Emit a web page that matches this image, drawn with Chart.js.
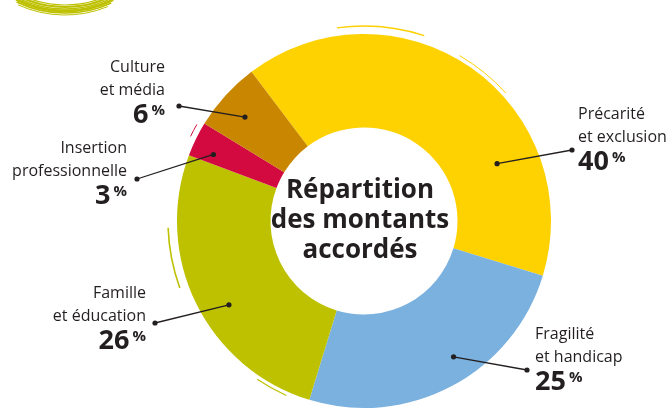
<!DOCTYPE html>
<html>
<head>
<meta charset="utf-8">
<script src="https://cdn.jsdelivr.net/npm/chart.js@4.4.1/dist/chart.umd.min.js"></script>
<style>
html,body{margin:0;padding:0;background:#fff;}
#wrap{width:669px;height:413px;}
</style>
</head>
<body>
<div id="wrap"><canvas id="c" width="669" height="413"></canvas></div>
<script>
// ---- data ----
const categories = ['Précarité et exclusion','Fragilité et handicap','Famille et éducation','Insertion professionnelle','Culture et média'];
const shares = [40, 25, 26, 3, 6];
const labelLines = [['Précarité','et exclusion'],['Fragilité','et handicap'],['Famille','et éducation'],['Insertion','professionnelle'],['Culture','et média']];
const titleLines = ['Répartition','des montants','accordés'];

// ---- styles / layout ----
const colors = ['#FED100','#7BB1DE','#BEC100','#D20A3F','#C98600'];
const TEXT = '#231F20';
const FONT = '"Open Sans", "Noto Sans", sans-serif';
// label placement: x, first baseline y, align, anchor dot, position of inner dot within its arc (t = angle fraction, f = radial fraction)
const labelLayout = [
  {x:578, y:119, align:'left',  dot:[572,150], t:0.72, f:0.55},
  {x:535, y:339, align:'left',  dot:[527,370], t:0.44, f:0.74},
  {x:146, y:298, align:'right', dot:[155,323], t:0.44, f:0.70},
  {x:127, y:153, align:'right', dot:[137,179], t:0.30, f:0.76},
  {x:165, y:72,  align:'right', dot:[179,106], t:0.45, f:0.69}
];

const decorPlugin = {
  id:'decor',
  beforeDatasetsDraw(chart){
    const ctx = chart.ctx;
    ctx.save();
    // brush stroke top-left
    ctx.strokeStyle = '#BEC100';
    const strokes = [[103,1.2,0.05],[105,2.2,0.0],[107,1.4,0.08],[109,2.8,0.02],[111,1.6,0.06],[113,1.0,0.12]];
    strokes.forEach(s=>{
      ctx.lineWidth = s[1];
      ctx.beginPath();
      ctx.arc(65,-98,s[0],(63+s[2]*40)*Math.PI/180,(117-s[2]*20)*Math.PI/180);
      ctx.stroke();
    });
    // thin brush strokes around ring
    const meta = chart.getDatasetMeta(0);
    const a0 = meta.data[0];
    const cx = a0.x, cy = a0.y, R = a0.outerRadius;
    const thin = [
      {c:'#BEC100', r:R+9, s:250, e:268, w:1.6},
      {c:'#BEC100', r:R+4, s:204, e:214, w:1.2},
      {c:'#FED100', r:R+8, s:-8, e:18, w:1.4},
      {c:'#FED100', r:R+4, s:30, e:48, w:1.0},
      {c:'#D20A3F', r:R+6, s:296, e:300, w:1.0}
    ];
    thin.forEach(t=>{
      ctx.strokeStyle = t.c; ctx.lineWidth = t.w;
      ctx.beginPath();
      ctx.arc(cx,cy,t.r,(t.s-90)*Math.PI/180,(t.e-90)*Math.PI/180);
      ctx.stroke();
    });
    ctx.restore();
  },
  afterDatasetsDraw(chart){
    const ctx = chart.ctx;
    const meta = chart.getDatasetMeta(0);
    ctx.save();
    // title
    const c0 = meta.data[0];
    ctx.fillStyle = TEXT;
    ctx.font = 'bold 26px ' + FONT;
    ctx.textAlign = 'center';
    ctx.textBaseline = 'alphabetic';
    titleLines.forEach((l,i)=>ctx.fillText(l, c0.x - 4, 198 + i*30));
    // labels and leaders
    meta.data.forEach((arc,i)=>{
      const L = labelLayout[i];
      const p = arc.getProps(['x','y','startAngle','endAngle','innerRadius','outerRadius'], true);
      const ang = p.startAngle + L.t*(p.endAngle - p.startAngle);
      const rad = p.innerRadius + L.f*(p.outerRadius - p.innerRadius);
      const ix = p.x + Math.cos(ang)*rad, iy = p.y + Math.sin(ang)*rad;
      ctx.strokeStyle = TEXT; ctx.fillStyle = TEXT; ctx.lineWidth = 1.3;
      ctx.beginPath(); ctx.moveTo(ix,iy); ctx.lineTo(L.dot[0],L.dot[1]); ctx.stroke();
      [[ix,iy],[L.dot[0],L.dot[1]]].forEach(d=>{ctx.beginPath(); ctx.arc(d[0],d[1],2.6,0,Math.PI*2); ctx.fill();});
      // text
      ctx.font = '16px ' + FONT;
      ctx.textAlign = L.align;
      labelLines[i].forEach((l,k)=>ctx.fillText(l, L.x, L.y + k*22.5));
      // big number + superscript %
      const num = String(shares[i]);
      ctx.font = 'bold 27px ' + FONT;
      const nw = ctx.measureText(num).width;
      ctx.font = 'bold 15px ' + FONT;
      const pw = ctx.measureText('%').width;
      const gap = 3;
      const total = nw + gap + pw;
      const left = L.align === 'left' ? L.x : L.x - total;
      const by = L.y + 22.5 + 28;
      ctx.textAlign = 'left';
      ctx.font = 'bold 27px ' + FONT;
      ctx.fillText(num, left, by);
      ctx.font = 'bold 15px ' + FONT;
      ctx.fillText('%', left + nw + gap, by - 8);
    });
    ctx.restore();
  }
};

new Chart(document.getElementById('c'), {
  type:'doughnut',
  data:{
    labels: categories,
    datasets:[{data: shares, backgroundColor: colors, borderWidth:0, hoverOffset:0}]
  },
  options:{
    responsive:false,
    devicePixelRatio:1,
    animation:false,
    rotation:-37,
    cutout:'50%',
    layout:{padding:{left:59,right:0,top:34,bottom:5}},
    plugins:{legend:{display:false},tooltip:{enabled:false}}
  },
  plugins:[decorPlugin]
});
</script>
</body>
</html>
